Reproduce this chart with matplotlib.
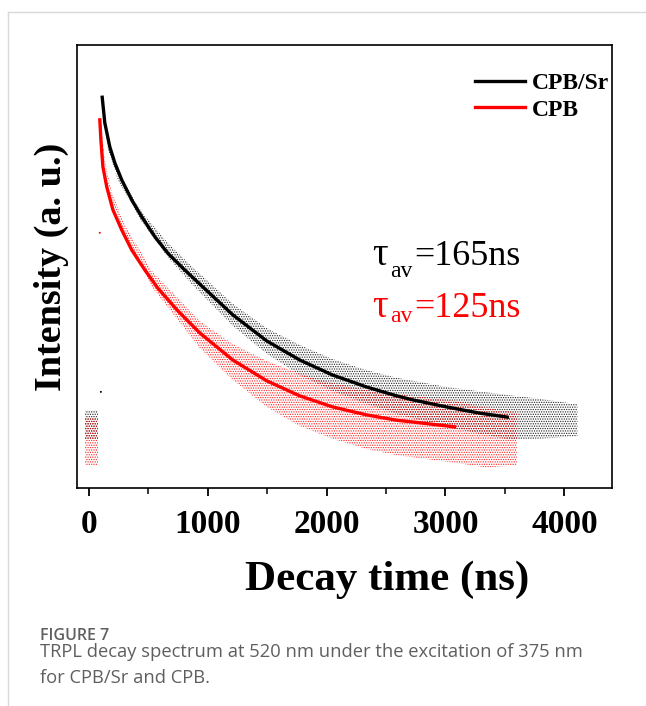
import matplotlib
matplotlib.use("Agg")
import matplotlib.pyplot as plt
from matplotlib.lines import Line2D

plt.rcParams["font.family"] = "Liberation Serif"
plt.rcParams["hatch.linewidth"] = 0.6

# fitted decay curves (time in ns, intensity in a.u.)
sr_fit_t = [112, 134, 176, 218, 277, 361, 445, 555, 664, 807, 950, 1210, 1496, 1773, 2050, 2336, 2588, 2723, 3008, 3286, 3521]
sr_fit_y = [0.882, 0.824, 0.770, 0.734, 0.695, 0.650, 0.612, 0.567, 0.530, 0.492, 0.456, 0.391, 0.332, 0.289,
            0.255, 0.228, 0.208, 0.199, 0.183, 0.169, 0.160]
cpb_fit_t = [92, 101, 118, 151, 202, 277, 361, 471, 580, 748, 933, 1210, 1496, 1773, 2050, 2336, 2588, 2723, 3076]
cpb_fit_y = [0.831, 0.786, 0.725, 0.679, 0.628, 0.582, 0.537, 0.492, 0.451, 0.400, 0.350, 0.289, 0.242, 0.208,
             0.183, 0.165, 0.153, 0.149, 0.138]

# spread of the measured counts around each curve
sr_pts_t = [109, 160, 244, 445, 664, 866, 1210, 1496, 1773, 2050, 2336, 2588, 3008, 3521, 3800, 4110]
sr_pts_lo = [0.873, 0.765, 0.695, 0.601, 0.521, 0.460, 0.366, 0.303, 0.255, 0.219, 0.190, 0.167, 0.138, 0.110, 0.111, 0.117]
sr_pts_hi = [0.887, 0.779, 0.713, 0.623, 0.553, 0.500, 0.416, 0.361, 0.323, 0.291, 0.266, 0.249, 0.228, 0.210, 0.201, 0.189]
cpb_pts_t = [92, 134, 193, 303, 445, 529, 933, 1210, 1496, 1773, 2050, 2336, 2588, 3076, 3350, 3600]
cpb_pts_lo = [0.826, 0.727, 0.648, 0.571, 0.499, 0.454, 0.316, 0.244, 0.183, 0.140, 0.111, 0.088, 0.074, 0.057, 0.046, 0.052]
cpb_pts_hi = [0.845, 0.741, 0.666, 0.593, 0.529, 0.490, 0.377, 0.325, 0.287, 0.258, 0.237, 0.221, 0.212, 0.197, 0.181, 0.170]

# background counts before the laser pulse
pre_t = [-30, 80]
sr_pre_lo = [0.110, 0.110]
sr_pre_hi = [0.176, 0.176]
cpb_pre_lo = [0.052, 0.052]
cpb_pre_hi = [0.158, 0.158]

# a few stray counts near the pulse
stray_t = [92, 101]
stray_y = [0.576, 0.217]
stray_c = ["red", "black"]

fig = plt.figure(figsize=(6.46, 7.06), dpi=100)
ax = fig.add_axes([0.1192, 0.3088, 0.828, 0.6275])

# measured points, drawn as stippled bands
for t, lo, hi in [(sr_pts_t, sr_pts_lo, sr_pts_hi), (pre_t, sr_pre_lo, sr_pre_hi)]:
    ax.fill_between(t, lo, hi, facecolor="none", edgecolor="black", hatch=".......", linewidth=0, alpha=0.85)
for t, lo, hi in [(cpb_pts_t, cpb_pts_lo, cpb_pts_hi), (pre_t, cpb_pre_lo, cpb_pre_hi)]:
    ax.fill_between(t, lo, hi, facecolor="none", edgecolor="red", hatch=".......", linewidth=0, alpha=0.85)
ax.scatter(stray_t, stray_y, s=2, c=stray_c, linewidths=0)

ax.plot(sr_fit_t, sr_fit_y, color="black", lw=2.4, label="CPB/Sr", solid_joinstyle="round")
ax.plot(cpb_fit_t, cpb_fit_y, color="red", lw=2.4, label="CPB", solid_joinstyle="round")

ax.set_xlim(-100, 4400)
ax.set_ylim(0, 1)
ax.set_xticks([0, 1000, 2000, 3000, 4000])
ax.set_xticks([500, 1500, 2500, 3500], minor=True)
ax.set_yticks([])
ax.tick_params(axis="x", which="major", direction="out", length=6, width=1.3, pad=9, labelsize=24)
ax.tick_params(axis="x", which="minor", direction="out", length=4, width=1.1)
for lab in ax.get_xticklabels():
    lab.set_fontweight("bold")
for s in ax.spines.values():
    s.set_linewidth(1.2)

ax.set_xlabel("Decay time (ns)", fontsize=31, fontweight="bold")
ax.xaxis.set_label_coords(0.58, -0.164)
ax.set_ylabel("Intensity (a. u.)", fontsize=27.5, fontweight="bold", labelpad=6)

ax.legend(loc="upper left", bbox_to_anchor=(0.744, 0.937), frameon=False, borderpad=0, borderaxespad=0,
          handlelength=2.1, handletextpad=0.3, labelspacing=0.2, prop={"weight": "bold", "size": 17})

# average lifetimes
for (yb, ys), txt, c in [((0.503, 0.476), "=165ns", "black"), ((0.386, 0.375), "=125ns", "red")]:
    ax.text(0.551, yb, "τ", transform=ax.transAxes, fontsize=28, color=c, va="baseline")
    ax.text(0.586, ys, "av", transform=ax.transAxes, fontsize=17, color=c, va="baseline")
    ax.text(0.630, yb, txt, transform=ax.transAxes, fontsize=26, color=c, va="baseline")

# page frame and caption
fig.add_artist(Line2D([8 / 646, 1], [1 - 12 / 706, 1 - 12 / 706], color="#d9d9d9", lw=1))
fig.add_artist(Line2D([8 / 646, 8 / 646], [0, 1 - 12 / 706], color="#d9d9d9", lw=1))
fig.text(40 / 646, 1 - 640 / 706, "FIGURE 7", fontsize=11.5, color="#5f5f5f", family="Open Sans", fontweight="semibold")
fig.text(40 / 646, 1 - 657 / 706, "TRPL decay spectrum at 520 nm under the excitation of 375 nm",
         fontsize=13.2, color="#5f5f5f", family="Open Sans")
fig.text(40 / 646, 1 - 683 / 706, "for CPB/Sr and CPB.", fontsize=13.2, color="#5f5f5f", family="Open Sans")

fig.savefig("out.png", dpi=100)
